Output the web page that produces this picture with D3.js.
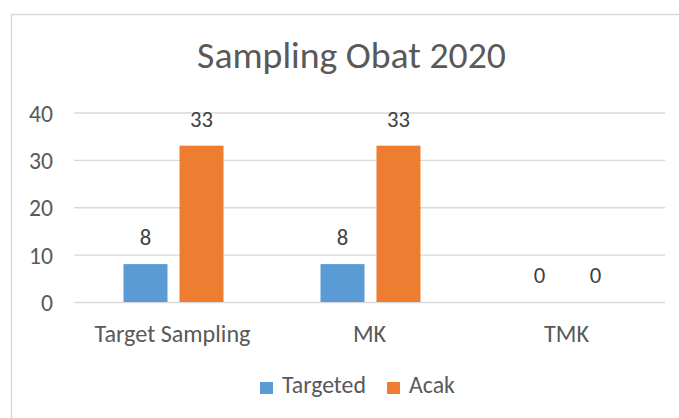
<!DOCTYPE html>
<html><head><meta charset="utf-8">
<script src="https://cdn.jsdelivr.net/npm/d3@7"></script>
<style>body{margin:0;background:#fff;} text{font-family:Carlito,Calibri,Lato,sans-serif;}</style>
</head><body><svg id="c" width="679" height="418"></svg>
<script>
const categories = ["Target Sampling", "MK", "TMK"];
const seriesNames = ["Targeted", "Acak"];
const targeted = [8, 8, 0];
const acak = [33, 33, 0];
const yTicks = [0, 10, 20, 30, 40];
const colors = ["#5b9bd5", "#ed7d31"];
const FONT = "Carlito,Calibri,Lato,sans-serif";

const svg = d3.select("#c");
svg.append("rect").attr("x", 11.5).attr("y", 14.5).attr("width", 700).attr("height", 500)
  .attr("fill", "#fff").attr("stroke", "#d9d9d9").attr("stroke-width", 1.5);

// size a font so that a sample string gets a given width
function fitSize(sample, targetW) {
  const t = svg.append("text").style("font-family", FONT).attr("font-size", 20).text(sample);
  const w = t.node().getComputedTextLength();
  t.remove();
  return 20 * targetW / w;
}
const titleSize = fitSize("Sampling Obat 2020", 309);
const catSize = fitSize("Target Sampling", 156);
const tickSize = fitSize("40", 24);
const valSize = fitSize("33", 23);
const legSize = fitSize("Targeted", 84);

const x0 = d3.scaleBand().domain(categories).range([74, 665]);
const x1 = d3.scaleBand().domain(seriesNames).range([0, 100]).paddingInner(0.214);
const y = d3.scaleLinear().domain([0, 40]).range([302, 112.5]);

svg.append("text").attr("x", 351.5).attr("y", 68).attr("text-anchor", "middle")
  .attr("fill", "#595959").attr("font-size", titleSize).text("Sampling Obat 2020");

const gy = svg.append("g").attr("transform", "translate(74,0)")
  .call(d3.axisLeft(y).tickValues(yTicks).tickSize(-(665 - 74)).tickPadding(21));
gy.select(".domain").remove();
gy.selectAll(".tick line").attr("stroke", "#d9d9d9").attr("stroke-width", 1.3);
gy.selectAll(".tick text").attr("fill", "#595959").attr("font-size", tickSize)
  .attr("dy", "0.36em").style("font-family", FONT);

const gx = svg.append("g").attr("transform", "translate(0,302)")
  .call(d3.axisBottom(x0).tickSize(0).tickPadding(23));
gx.select(".domain").remove();
gx.selectAll(".tick text").attr("fill", "#595959").attr("font-size", catSize)
  .attr("dy", "0.71em").style("font-family", FONT);

const data = categories.map((c, i) => ({c, vals: [targeted[i], acak[i]]}));
const groups = svg.append("g").selectAll("g").data(data).join("g")
  .attr("transform", d => `translate(${x0(d.c) + (x0.bandwidth() - 100) / 2 + 1},0)`);
groups.selectAll("rect").data(d => d.vals.map((v, j) => ({v, s: seriesNames[j], j})))
  .join("rect")
  .attr("x", d => x1(d.s)).attr("width", x1.bandwidth())
  .attr("y", d => y(d.v)).attr("height", d => y(0) - y(d.v))
  .attr("fill", d => colors[d.j]);
groups.selectAll("text").data(d => d.vals.map((v, j) => ({v, s: seriesNames[j]})))
  .join("text")
  .attr("x", d => x1(d.s) + x1.bandwidth() / 2).attr("y", d => y(d.v) - 19)
  .attr("text-anchor", "middle").attr("fill", "#404040").attr("font-size", valSize)
  .text(d => d.v);

const legend = svg.append("g");
const legX = [260, 387];
seriesNames.forEach((s, i) => {
  legend.append("rect").attr("x", legX[i]).attr("y", 382).attr("width", 13).attr("height", 12).attr("fill", colors[i]);
  legend.append("text").attr("x", legX[i] + 22).attr("y", 393).attr("fill", "#595959")
    .attr("font-size", legSize).text(s);
});
</script></body></html>
